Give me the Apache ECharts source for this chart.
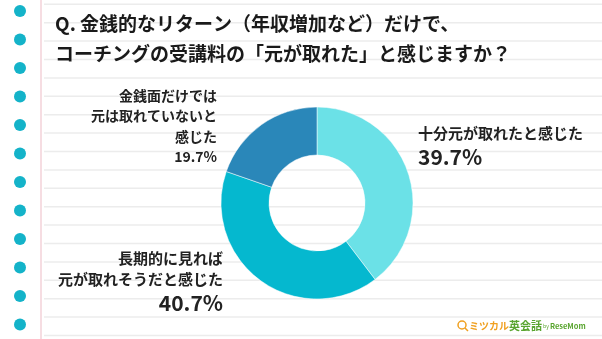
<!DOCTYPE html>
<html>
<head>
<meta charset="utf-8">
<script src="https://cdn.jsdelivr.net/npm/echarts@6/dist/echarts.min.js"></script>
<style>
html,body{margin:0;padding:0;background:#fff;}
#c{width:602px;height:339px;}
</style>
</head>
<body>
<div id="c"></div>
<script>
const titleLines = ['Q. 金銭的なリターン（年収増加など）だけで、', 'コーチングの受講料の「元が取れた」と感じますか？'];
const categories = ['十分元が取れたと感じた', '長期的に見れば\n元が取れそうだと感じた', '金銭面だけでは\n元は取れていないと\n感じた'];
const values = [39.7, 40.7, 19.7];
const colors = ['#6be1e7', '#05b8cf', '#2a87b9'];

const FONT = '"Noto Sans CJK JP", "Noto Sans", sans-serif';
const chart = echarts.init(document.getElementById('c'), null, {renderer: 'canvas'});

// notebook background
const bg = [];
for (let k = 0; k < 19; k++) {
  const y = 4.3 + 18.4 * k;
  bg.push({type: 'rect', shape: {x: 44, y: y - 0.75, width: 560, height: 1.5}, style: {fill: '#ececec'}, silent: true, z: -10});
}
bg.push({type: 'rect', shape: {x: 40, y: 0, width: 2, height: 339}, style: {fill: '#f6dde2'}, silent: true, z: -9});
for (let k = 0; k < 12; k++) {
  bg.push({type: 'circle', shape: {cx: 20, cy: 11 + 28.5 * k, r: 6}, style: {fill: '#14b3c9'}, silent: true, z: -8});
}
// title
titleLines.forEach((t, i) => {
  bg.push({type: 'text', x: 55, y: 24 + 29.5 * i, style: {text: t, fill: '#1a1a1a', font: 'bold 19px ' + FONT, textVerticalAlign: 'middle'}, z: 5});
});
// logo
bg.push({type: 'circle', shape: {cx: 462, cy: 325, r: 4}, style: {fill: 'none', stroke: '#f0a020', lineWidth: 1.5}, z: 5});
bg.push({type: 'line', shape: {x1: 465, y1: 328, x2: 468, y2: 331}, style: {stroke: '#f0a020', lineWidth: 1.5}, z: 5});
bg.push({type: 'text', x: 469, y: 326, style: {
  text: '{a|ミツカル}{b|英会話}{c| by }{d|ReseMom}',
  textVerticalAlign: 'middle',
  rich: {
    a: {fill: '#f0a020', font: 'bold 10px ' + FONT},
    b: {fill: '#5aa530', font: 'bold 11px ' + FONT},
    c: {fill: '#5aa530', font: '5px ' + FONT},
    d: {fill: '#5aa530', font: 'bold 7.5px ' + FONT}
  }
}, z: 5});

const labelPos = [
  {x: 418, y: 147, align: 'left'},
  {x: 223, y: 282, align: 'right'},
  {x: 217, y: 126, align: 'right'}
];

chart.setOption({
  animation: false,
  graphic: bg,
  series: [{
    type: 'pie',
    center: [317, 203],
    radius: [48, 96],
    startAngle: 90,
    clockwise: true,
    avoidLabelOverlap: false,
    itemStyle: {borderColor: '#fff', borderWidth: 0.5},
    labelLine: {show: false},
    data: categories.map((c, i) => ({name: c, value: values[i], itemStyle: {color: colors[i]}})),
    label: {
      show: true,
      position: 'outside',
      color: '#222',
      fontFamily: FONT,
      formatter: p => p.dataIndex === 2
        ? '{s|' + p.name.split('\n').join('}\n{s|') + '}\n{s|' + p.value + '%}'
        : '{n|' + p.name.split('\n').join('}\n{n|') + '}\n{p|' + p.value + '%}',
      rich: {
        s: {fontSize: 14, fontWeight: 'bold', lineHeight: 20.5, fontFamily: FONT, color: '#222'},
        n: {fontSize: 15, fontWeight: 'bold', lineHeight: 21, fontFamily: FONT, color: '#222'},
        p: {fontSize: 21, fontWeight: 'bold', lineHeight: 27, fontFamily: FONT, color: '#222'}
      }
    },
    labelLayout: p => ({x: labelPos[p.dataIndex].x, y: labelPos[p.dataIndex].y, align: labelPos[p.dataIndex].align, verticalAlign: 'middle'})
  }]
});
</script>
</body>
</html>
